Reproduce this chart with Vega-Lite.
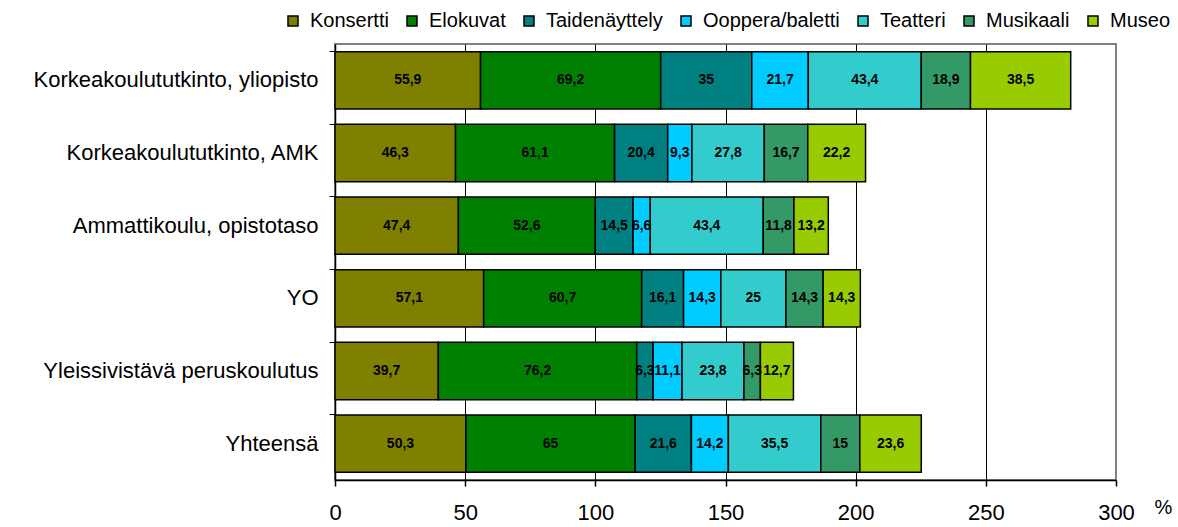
{
  "$schema": "https://vega.github.io/schema/vega-lite/v6.json",
  "width": 781,
  "height": 436,
  "autosize": {"type": "none"},
  "padding": {"left": 335, "top": 44, "right": 62, "bottom": 47},
  "background": "white",
  "config": {
    "font": "Liberation Sans",
    "view": {"stroke": "#808080", "strokeWidth": 2}
  },
  "data": {
    "values": [
      {"g": "Korkeakoulututkinto, yliopisto", "k": "Konsertti", "v": 55.9},
      {"g": "Korkeakoulututkinto, yliopisto", "k": "Elokuvat", "v": 69.2},
      {"g": "Korkeakoulututkinto, yliopisto", "k": "Taidenäyttely", "v": 35},
      {"g": "Korkeakoulututkinto, yliopisto", "k": "Ooppera/baletti", "v": 21.7},
      {"g": "Korkeakoulututkinto, yliopisto", "k": "Teatteri", "v": 43.4},
      {"g": "Korkeakoulututkinto, yliopisto", "k": "Musikaali", "v": 18.9},
      {"g": "Korkeakoulututkinto, yliopisto", "k": "Museo", "v": 38.5},
      {"g": "Korkeakoulututkinto, AMK", "k": "Konsertti", "v": 46.3},
      {"g": "Korkeakoulututkinto, AMK", "k": "Elokuvat", "v": 61.1},
      {"g": "Korkeakoulututkinto, AMK", "k": "Taidenäyttely", "v": 20.4},
      {"g": "Korkeakoulututkinto, AMK", "k": "Ooppera/baletti", "v": 9.3},
      {"g": "Korkeakoulututkinto, AMK", "k": "Teatteri", "v": 27.8},
      {"g": "Korkeakoulututkinto, AMK", "k": "Musikaali", "v": 16.7},
      {"g": "Korkeakoulututkinto, AMK", "k": "Museo", "v": 22.2},
      {"g": "Ammattikoulu, opistotaso", "k": "Konsertti", "v": 47.4},
      {"g": "Ammattikoulu, opistotaso", "k": "Elokuvat", "v": 52.6},
      {"g": "Ammattikoulu, opistotaso", "k": "Taidenäyttely", "v": 14.5},
      {"g": "Ammattikoulu, opistotaso", "k": "Ooppera/baletti", "v": 6.6},
      {"g": "Ammattikoulu, opistotaso", "k": "Teatteri", "v": 43.4},
      {"g": "Ammattikoulu, opistotaso", "k": "Musikaali", "v": 11.8},
      {"g": "Ammattikoulu, opistotaso", "k": "Museo", "v": 13.2},
      {"g": "YO", "k": "Konsertti", "v": 57.1},
      {"g": "YO", "k": "Elokuvat", "v": 60.7},
      {"g": "YO", "k": "Taidenäyttely", "v": 16.1},
      {"g": "YO", "k": "Ooppera/baletti", "v": 14.3},
      {"g": "YO", "k": "Teatteri", "v": 25},
      {"g": "YO", "k": "Musikaali", "v": 14.3},
      {"g": "YO", "k": "Museo", "v": 14.3},
      {"g": "Yleissivistävä peruskoulutus", "k": "Konsertti", "v": 39.7},
      {"g": "Yleissivistävä peruskoulutus", "k": "Elokuvat", "v": 76.2},
      {"g": "Yleissivistävä peruskoulutus", "k": "Taidenäyttely", "v": 6.3},
      {"g": "Yleissivistävä peruskoulutus", "k": "Ooppera/baletti", "v": 11.1},
      {"g": "Yleissivistävä peruskoulutus", "k": "Teatteri", "v": 23.8},
      {"g": "Yleissivistävä peruskoulutus", "k": "Musikaali", "v": 6.3},
      {"g": "Yleissivistävä peruskoulutus", "k": "Museo", "v": 12.7},
      {"g": "Yhteensä", "k": "Konsertti", "v": 50.3},
      {"g": "Yhteensä", "k": "Elokuvat", "v": 65},
      {"g": "Yhteensä", "k": "Taidenäyttely", "v": 21.6},
      {"g": "Yhteensä", "k": "Ooppera/baletti", "v": 14.2},
      {"g": "Yhteensä", "k": "Teatteri", "v": 35.5},
      {"g": "Yhteensä", "k": "Musikaali", "v": 15},
      {"g": "Yhteensä", "k": "Museo", "v": 23.6}
    ]
  },
  "transform": [
    {"calculate": "indexof(['Konsertti','Elokuvat','Taidenäyttely','Ooppera/baletti','Teatteri','Musikaali','Museo'], datum.k)", "as": "i"},
    {"stack": "v", "groupby": ["g"], "sort": [{"field": "i", "order": "ascending"}], "as": ["x0", "x1"]},
    {"calculate": "(datum.x0 + datum.x1) / 2", "as": "mid"},
    {"calculate": "replace(format(datum.v, '~g'), '.', ',')", "as": "lab"}
  ],
  "encoding": {
    "y": {
      "field": "g",
      "type": "nominal",
      "sort": ["Korkeakoulututkinto, yliopisto", "Korkeakoulututkinto, AMK", "Ammattikoulu, opistotaso", "YO", "Yleissivistävä peruskoulutus", "Yhteensä"],
      "scale": {"paddingInner": 0.21, "paddingOuter": 0.105},
      "axis": {
        "title": null,
        "domainColor": "black",
        "domainWidth": 1.5,
        "tickColor": "black",
        "tickWidth": 1,
        "tickSize": 6,
        "bandPosition": 0,
        "labelOffset": 0,
        "labelFontSize": 22,
        "labelColor": "black",
        "labelPadding": 11,
        "labelLimit": 400,
        "grid": false
      }
    }
  },
  "layer": [
    {
      "mark": {"type": "bar", "stroke": "black", "strokeWidth": 1.5, "opacity": 1},
      "encoding": {
        "x": {
          "field": "x0",
          "type": "quantitative",
          "scale": {"domain": [0, 300], "nice": false},
          "axis": {
            "title": "%",
            "values": [0, 50, 100, 150, 200, 250, 300],
            "grid": true,
            "gridColor": {"condition": {"test": "datum.value === 300 || datum.value === 0", "value": "transparent"}, "value": "black"},
            "gridWidth": 1,
            "gridOpacity": 1,
            "domainColor": "black",
            "domainWidth": 1.5,
            "tickColor": "black",
            "tickSize": 6,
            "tickWidth": 1.5,
            "labelFontSize": 22,
            "labelColor": "black",
            "labelPadding": 16,
            "labelFlush": false,
            "titleFontSize": 20,
            "titleFontWeight": "normal",
            "titleColor": "black",
            "titleAngle": 0,
            "titleX": 828,
            "titleY": 27,
            "titleAlign": "center",
            "titleBaseline": "middle"
          }
        },
        "x2": {"field": "x1"},
        "color": {
          "field": "k",
          "type": "nominal",
          "scale": {
            "domain": ["Konsertti", "Elokuvat", "Taidenäyttely", "Ooppera/baletti", "Teatteri", "Musikaali", "Museo"],
            "range": ["#808000", "#008000", "#008080", "#00CCFF", "#33CCCC", "#339966", "#99CC00"]
          },
          "legend": {
            "title": null,
            "orient": "none",
            "legendX": -52,
            "legendY": -33,
            "direction": "horizontal",
            "columns": 7,
            "symbolType": "square",
            "symbolSize": 100,
            "symbolStrokeColor": "black",
            "symbolStrokeWidth": 1.5,
            "symbolOpacity": 1,
            "labelFontSize": 20,
            "labelColor": "black",
            "labelOffset": 7,
            "columnPadding": 13,
            "labelLimit": 300
          }
        }
      }
    },
    {
      "mark": {"type": "text", "fontSize": 14, "fontWeight": "bold", "color": "black", "baseline": "middle", "align": "center", "letterSpacing": 1},
      "encoding": {
        "x": {"field": "mid", "type": "quantitative"},
        "text": {"field": "lab", "type": "nominal"}
      }
    }
  ]
}
